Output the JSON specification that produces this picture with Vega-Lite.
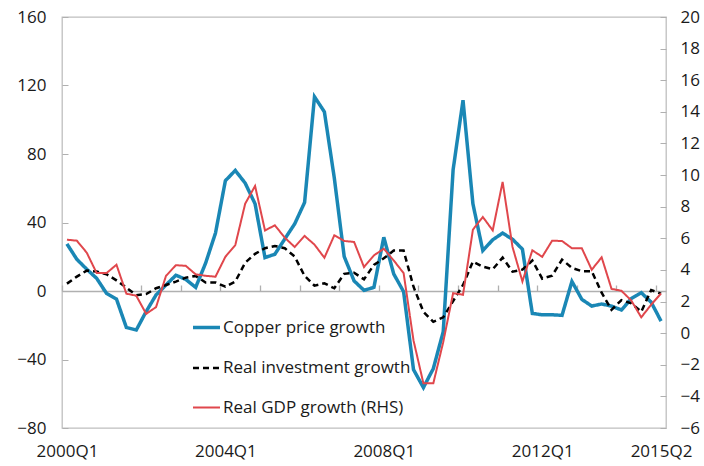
{
  "$schema": "https://vega.github.io/schema/vega-lite/v6.json",
  "width": 604,
  "height": 411,
  "autosize": {"type": "none"},
  "padding": {"left": 62, "top": 17, "right": 38, "bottom": 38},
  "background": "white",
  "config": {
    "view": {"stroke": "#bfbfbf", "strokeWidth": 1.3},
    "font": "Open Sans",
    "axis": {"labelFont": "Open Sans", "labelFontSize": 17, "labelColor": "#1a1a1a", "grid": false, "title": null, "tickColor": "#b0b0b0", "domainColor": "#b0b0b0"}
  },
  "data": {"values": [
    {"t":0,"copper":27.5,"investment":4.3,"gdp":5.91},
    {"t":1,"copper":18.5,"investment":8.4,"gdp":5.85},
    {"t":2,"copper":12.7,"investment":11.9,"gdp":5.09},
    {"t":3,"copper":7.4,"investment":11.4,"gdp":3.8},
    {"t":4,"copper":-1.4,"investment":9.8,"gdp":3.8},
    {"t":5,"copper":-4.7,"investment":6.2,"gdp":4.33},
    {"t":6,"copper":-21.3,"investment":2,"gdp":2.5},
    {"t":7,"copper":-22.8,"investment":-2.5,"gdp":2.37},
    {"t":8,"copper":-12,"investment":-1.8,"gdp":1.22},
    {"t":9,"copper":-2.3,"investment":1.6,"gdp":1.65},
    {"t":10,"copper":3.5,"investment":3.5,"gdp":3.62},
    {"t":11,"copper":9.2,"investment":5.5,"gdp":4.3},
    {"t":12,"copper":6.8,"investment":7.8,"gdp":4.26},
    {"t":13,"copper":2.1,"investment":8.8,"gdp":3.72},
    {"t":14,"copper":16.2,"investment":5,"gdp":3.63},
    {"t":15,"copper":33.8,"investment":5,"gdp":3.57},
    {"t":16,"copper":64.4,"investment":2.5,"gdp":4.83},
    {"t":17,"copper":70.4,"investment":5.5,"gdp":5.57},
    {"t":18,"copper":63,"investment":16.5,"gdp":8.19},
    {"t":19,"copper":50.9,"investment":21.7,"gdp":9.31},
    {"t":20,"copper":19.5,"investment":25,"gdp":6.5},
    {"t":21,"copper":21.5,"investment":26.3,"gdp":6.82},
    {"t":22,"copper":30.4,"investment":25,"gdp":6.04},
    {"t":23,"copper":39.2,"investment":20.1,"gdp":5.45},
    {"t":24,"copper":51.7,"investment":8.8,"gdp":6.15},
    {"t":25,"copper":113.4,"investment":3.1,"gdp":5.6},
    {"t":26,"copper":104.6,"investment":4.5,"gdp":4.77},
    {"t":27,"copper":66,"investment":1.6,"gdp":6.19},
    {"t":28,"copper":20.1,"investment":10,"gdp":5.83},
    {"t":29,"copper":5.9,"investment":10.7,"gdp":5.77},
    {"t":30,"copper":0.4,"investment":6.8,"gdp":4.18},
    {"t":31,"copper":2.1,"investment":15.2,"gdp":4.92},
    {"t":32,"copper":31.4,"investment":19.1,"gdp":5.34},
    {"t":33,"copper":10,"investment":23.6,"gdp":4.6},
    {"t":34,"copper":-0.4,"investment":23.6,"gdp":3.8},
    {"t":35,"copper":-45.9,"investment":2.5,"gdp":-0.46},
    {"t":36,"copper":-56.4,"investment":-12.1,"gdp":-3.17},
    {"t":37,"copper":-45.3,"investment":-18,"gdp":-3.17},
    {"t":38,"copper":-23.8,"investment":-15.4,"gdp":-0.57},
    {"t":39,"copper":70.8,"investment":-5.9,"gdp":2.53},
    {"t":40,"copper":111.4,"investment":3.5,"gdp":2.43},
    {"t":41,"copper":50.9,"investment":17.2,"gdp":6.55},
    {"t":42,"copper":23.6,"investment":14.2,"gdp":7.35},
    {"t":43,"copper":29.9,"investment":12.7,"gdp":6.5},
    {"t":44,"copper":33.8,"investment":19.5,"gdp":9.57},
    {"t":45,"copper":30.2,"investment":11.3,"gdp":5.45},
    {"t":46,"copper":24.4,"investment":12.5,"gdp":3.27},
    {"t":47,"copper":-13.1,"investment":17.8,"gdp":5.24},
    {"t":48,"copper":-13.9,"investment":7.2,"gdp":4.83},
    {"t":49,"copper":-13.9,"investment":9,"gdp":5.85},
    {"t":50,"copper":-14.2,"investment":18.3,"gdp":5.83},
    {"t":51,"copper":5.6,"investment":13.5,"gdp":5.37},
    {"t":52,"copper":-4.9,"investment":11.6,"gdp":5.37},
    {"t":53,"copper":-8.8,"investment":11.6,"gdp":4.01},
    {"t":54,"copper":-7.6,"investment":-1,"gdp":4.8},
    {"t":55,"copper":-8.8,"investment":-11,"gdp":2.8},
    {"t":56,"copper":-11.1,"investment":-5.3,"gdp":2.68},
    {"t":57,"copper":-4.4,"investment":-7.2,"gdp":2.06},
    {"t":58,"copper":-1,"investment":-12.1,"gdp":1.0},
    {"t":59,"copper":-6.5,"investment":0.6,"gdp":1.8},
    {"t":60,"copper":-17.6,"investment":-1.6,"gdp":2.51}
  ]},
  "transform": [{"fold": ["copper", "investment", "gdp"], "as": ["series", "value"]}],
  "layer": [
    {
      "transform": [{"filter": "datum.series !== 'gdp'"}],
      "mark": {"type": "line"},
      "encoding": {
        "x": {"field": "t", "type": "quantitative",
          "scale": {"domain": [-0.5, 60.5], "nice": false, "zero": false},
          "axis": {"orient": "bottom", "values": [0, 16, 32, 48, 60], "ticks": false, "domain": false, "labelPadding": 15, "labelFlush": false,
            "labelExpr": "datum.value == 0 ? '2000Q1' : datum.value == 16 ? '2004Q1' : datum.value == 32 ? '2008Q1' : datum.value == 48 ? '2012Q1' : '2015Q2'"}},
        "y": {"field": "value", "type": "quantitative",
          "scale": {"domain": [-80, 160], "nice": false, "zero": false},
          "axis": {"orient": "left", "values": [-80, -40, 0, 40, 80, 120, 160], "tickSize": -6, "labelPadding": 22, "domain": false}},
        "color": {"field": "series", "type": "nominal",
          "scale": {"domain": ["copper", "investment", "gdp"], "range": ["#1a87b5", "#000000", "#e0474c"]},
          "legend": {"orient": "none", "legendX": 129, "legendY": 295, "title": null, "symbolType": "stroke", "symbolSize": 729,
            "labelFont": "Open Sans", "labelFontSize": 17, "labelColor": "#1a1a1a", "labelOffset": 1, "rowPadding": 17, "labelLimit": 0,
            "labelExpr": "datum.value == 'copper' ? 'Copper price growth' : datum.value == 'investment' ? 'Real investment growth' : 'Real GDP growth (RHS)'"}},
        "strokeDash": {"field": "series", "type": "nominal",
          "scale": {"domain": ["copper", "investment", "gdp"], "range": [[1, 0], [6, 4], [1, 0]]}},
        "strokeWidth": {"field": "series", "type": "nominal",
          "scale": {"type": "ordinal", "domain": ["copper", "investment", "gdp"], "range": [3.5, 2.5, 2]}}
      }
    },
    {
      "transform": [{"filter": "datum.series === 'gdp'"}],
      "mark": {"type": "line"},
      "encoding": {
        "x": {"field": "t", "type": "quantitative",
          "scale": {"domain": [-0.5, 60.5], "nice": false, "zero": false},
          "axis": {"orient": "top", "offset": -274, "labels": false, "ticks": true, "tickSize": 6, "tickWidth": 1.3, "domain": true, "domainWidth": 1.3,
            "values": [-0.5, 3.5, 7.5, 11.5, 15.5, 19.5, 23.5, 27.5, 31.5, 35.5, 39.5, 43.5, 47.5, 51.5, 55.5, 59.5]}},
        "y": {"field": "value", "type": "quantitative",
          "scale": {"domain": [-6, 20], "nice": false, "zero": false},
          "axis": {"orient": "right", "values": [-6, -4, -2, 0, 2, 4, 6, 8, 10, 12, 14, 16, 18, 20], "tickSize": -6, "labelPadding": 20, "domain": false}},
        "color": {"field": "series", "type": "nominal",
          "scale": {"domain": ["copper", "investment", "gdp"], "range": ["#1a87b5", "#000000", "#e0474c"]}},
        "strokeDash": {"field": "series", "type": "nominal",
          "scale": {"domain": ["copper", "investment", "gdp"], "range": [[1, 0], [6, 4], [1, 0]]}},
        "strokeWidth": {"field": "series", "type": "nominal",
          "scale": {"type": "ordinal", "domain": ["copper", "investment", "gdp"], "range": [3.5, 2.5, 2]}}
      }
    }
  ],
  "resolve": {"scale": {"y": "independent"}, "axis": {"x": "independent", "y": "independent"}}
}
